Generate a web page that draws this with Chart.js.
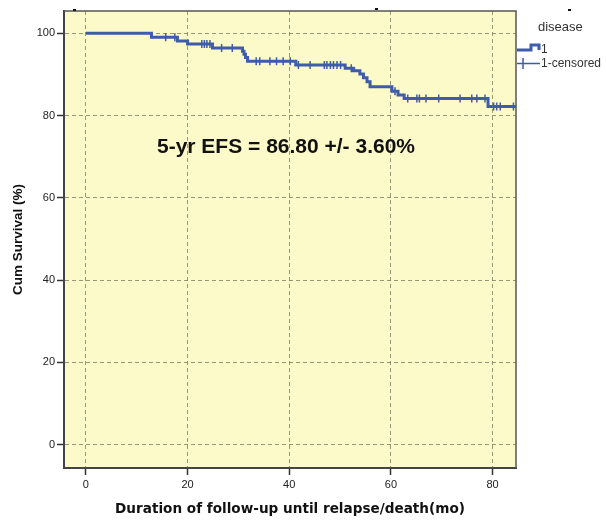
<!DOCTYPE html>
<html>
<head>
<meta charset="utf-8">
<script src="https://cdn.jsdelivr.net/npm/chart.js@4"></script>
<style>
  html, body { margin: 0; padding: 0; background: #fff; }
  #wrap { width: 606px; height: 520px; }
</style>
</head>
<body>
<div id="wrap"><canvas id="kmChart" width="606" height="520"></canvas></div>
<script>
// Kaplan-Meier steps: month of each drop and cumulative survival (%) after it
const eventTimes = [0, 12.9, 18.0, 20.0, 24.9, 30.8, 31.1, 31.4, 31.8, 41.3, 51.0, 52.6, 53.9, 54.6, 55.3, 55.9, 60.2, 61.4, 62.6, 79.1, 84.5];
const eventSurv  = [100, 99.0, 98.1, 97.4, 96.4, 95.6, 94.9, 94.1, 93.2, 92.3, 91.5, 90.9, 90.1, 89.2, 88.2, 87.0, 85.9, 85.0, 84.1, 82.2, 82.2];

// censored cases (the + marks)
const censorTimes = [15.7, 17.5, 22.8, 23.3, 23.8, 24.4, 26.7, 28.8,
  33.5, 34.2, 36.2, 37.5, 38.8, 40.2,
  41.8, 44.1, 46.9, 47.4, 48.1, 48.7, 49.4, 50.1,
  52.2, 60.8,
  63.3, 65.1, 65.6, 66.9, 69.4, 73.6, 75.9, 76.9, 78.5,
  80.2, 80.8, 81.5, 84.1];
const censorSurv = [99.0, 99.0, 97.4, 97.4, 97.4, 97.4, 96.4, 96.4,
  93.2, 93.2, 93.2, 93.2, 93.2, 93.2,
  92.3, 92.3, 92.3, 92.3, 92.3, 92.3, 92.3, 92.3,
  91.5, 85.9,
  84.1, 84.1, 84.1, 84.1, 84.1, 84.1, 84.1, 84.1, 84.1,
  82.2, 82.2, 82.2, 82.2];

const xTicks = [0, 20, 40, 60, 80];
const yTicks = [0, 20, 40, 60, 80, 100];

const lineColor = '#3f5bab';
const plotBg = '#fcfac9';
const gridColor = 'rgba(120,120,95,0.75)';
const tickFont = { family: 'Arial, "Liberation Sans", sans-serif', size: 11 };

const kmPoints = eventTimes.map((t, i) => ({ x: t, y: eventSurv[i] }));
const censorPoints = censorTimes.map((t, i) => ({ x: t, y: censorSurv[i] }));

// yellow plot background + frame, annotation and the SPSS-style legend
const decorPlugin = {
    id: 'decor',
    beforeDraw(chart) {
        const { ctx, chartArea: a } = chart;
        ctx.save();
        ctx.fillStyle = plotBg;
        ctx.fillRect(a.left, a.top, a.right - a.left, a.bottom - a.top);
        ctx.restore();
    },
    afterDraw(chart) {
        const { ctx, chartArea: a } = chart;
        ctx.save();

        // top and right frame
        ctx.strokeStyle = '#555';
        ctx.lineWidth = 1.5;
        ctx.beginPath();
        ctx.moveTo(a.left, a.top);
        ctx.lineTo(a.right, a.top);
        ctx.lineTo(a.right, a.bottom);
        ctx.stroke();

        // estimate text
        ctx.fillStyle = '#111';
        ctx.font = 'bold 21px Arial, "Liberation Sans", sans-serif';
        ctx.textAlign = 'center';
        ctx.textBaseline = 'middle';
        ctx.fillText('5-yr EFS = 86.80 +/- 3.60%', 286, 147);

        // legend
        ctx.textAlign = 'left';
        ctx.fillStyle = '#333';
        ctx.font = '13px Arial, "Liberation Sans", sans-serif';
        ctx.fillText('disease', 538, 27);
        ctx.font = '12px Arial, "Liberation Sans", sans-serif';
        ctx.fillText('1', 541, 50);
        ctx.fillText('1-censored', 541, 64);

        ctx.strokeStyle = lineColor;
        ctx.lineWidth = 3;
        ctx.beginPath();
        ctx.moveTo(517, 50);
        ctx.lineTo(531, 50);
        ctx.lineTo(531, 45);
        ctx.lineTo(539, 45);
        ctx.lineTo(539, 50);
        ctx.stroke();

        ctx.lineWidth = 1.5;
        ctx.beginPath();
        ctx.moveTo(517, 63.5);
        ctx.lineTo(540, 63.5);
        ctx.moveTo(523, 58);
        ctx.lineTo(523, 69);
        ctx.stroke();

        // small stray marks along the top edge
        ctx.fillStyle = '#111';
        ctx.fillRect(73, 9, 3, 2);
        ctx.fillRect(375, 8, 3, 2);
        ctx.fillRect(568, 9, 3, 2);

        ctx.restore();
    }
};

new Chart(document.getElementById('kmChart'), {
    type: 'scatter',
    data: {
        datasets: [
            {
                label: '1',
                data: kmPoints,
                showLine: true,
                stepped: 'before',
                borderColor: lineColor,
                borderWidth: 3,
                pointRadius: 0,
                fill: false
            },
            {
                label: '1-censored',
                data: censorPoints,
                showLine: false,
                pointStyle: 'cross',
                pointRadius: 4,
                pointBorderWidth: 1.5,
                borderColor: lineColor,
                backgroundColor: lineColor
            }
        ]
    },
    options: {
        responsive: false,
        animation: false,
        devicePixelRatio: 1,
        layout: { padding: { left: 0, right: 90, top: 11, bottom: 0 } },
        plugins: {
            legend: { display: false },
            tooltip: { enabled: false }
        },
        scales: {
            x: {
                type: 'linear',
                min: -4.3,
                max: 84.6,
                afterBuildTicks: s => { s.ticks = xTicks.map(v => ({ value: v })); },
                afterFit: s => { s.height = 52; },
                grid: {
                    color: gridColor,
                    lineWidth: 1,
                    tickLength: 7,
                    tickColor: '#333',
                    tickWidth: 1.5,
                    tickBorderDash: []
                },
                border: { color: '#444', width: 2, dash: [4, 3] },
                ticks: { font: tickFont, color: '#222', padding: 3 },
                title: {
                    display: true,
                    text: 'Duration of follow-up until relapse/death(mo)',
                    font: { family: '"DejaVu Sans", Verdana, sans-serif', size: 13.6, weight: 'bold' },
                    color: '#111',
                    padding: { top: 0, bottom: 2 }
                }
            },
            y: {
                type: 'linear',
                min: -5.7,
                max: 105.4,
                afterBuildTicks: s => { s.ticks = yTicks.map(v => ({ value: v })); },
                afterFit: s => { s.width = 64; },
                grid: {
                    color: gridColor,
                    lineWidth: 1,
                    tickLength: 7,
                    tickColor: '#333',
                    tickWidth: 1.5,
                    tickBorderDash: []
                },
                border: { color: '#444', width: 2, dash: [4, 3] },
                ticks: { font: tickFont, color: '#222', padding: 2 },
                title: {
                    display: true,
                    text: 'Cum Survival (%)',
                    font: { family: 'Arial, "Liberation Sans", sans-serif', size: 13.5, weight: 'bold' },
                    color: '#111',
                    padding: { top: 10, bottom: 0 }
                }
            }
        }
    },
    plugins: [decorPlugin]
});
</script>
</body>
</html>
